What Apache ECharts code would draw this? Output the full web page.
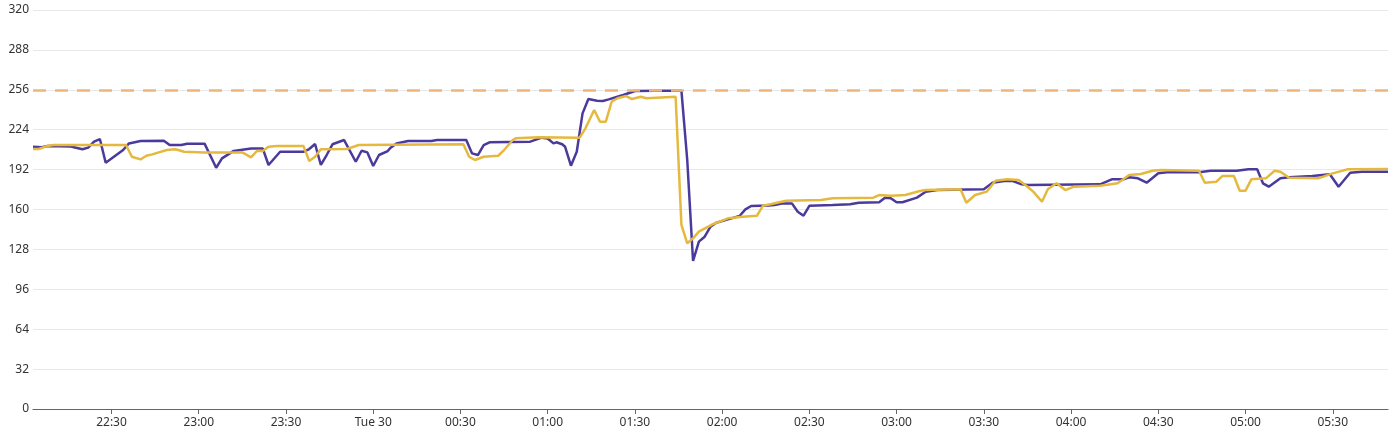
<!DOCTYPE html>
<html>
<head>
<meta charset="utf-8">
<script src="https://cdn.jsdelivr.net/npm/echarts@6/dist/echarts.min.js"></script>
<style>
html,body{margin:0;padding:0;background:#fff;}
#chart{width:1400px;height:443px;}
</style>
</head>
<body>
<div id="chart"></div>
<script>
// minutes after 22:00 on Mon 29
const purpleMinutes = [3,6,8,16,20,22,24,26,28,34,36,40,48,50,54,56,62,66,68,72,78,82,84,88,96,98,100,102,104,106,110,114,116,118,120,122,125,126,128,132,140,142,152,154,156,158,160,174,178,180,182,183,185,186,188,190,192,194,197,199,201,204,206,210,217,226,228,230,232,234,236,238,242,246,248,250,256,258,261,264,266,268,270,278,284,287,294,296,298,300,302,307,310,314,330,333,337,340,343,345,370,374,378,380,383,386,390,393,404,408,417,421,424,426,428,432,435,443,449,452,456,460,469];
const purpleValues = [210.3,210,211,210.5,208.3,209.6,214.4,216.5,197.5,207.7,213,215,215.2,211.7,211.7,212.8,212.8,193.5,201,207,209,209,195.7,206.3,206.3,208.5,212.5,195.7,203.7,212.3,215.7,198.3,207.1,205.8,194.9,203.7,206.9,209.6,213,214.9,214.9,215.7,215.7,205,203.7,211.7,213.9,214.4,217.6,217,213,213.9,212.3,210.3,195.1,206.3,237.1,248.6,247.2,247,248.3,250.4,251.8,255,255.3,255.3,199.7,118.7,134.2,138.2,146.2,149.4,152.1,154.8,160.1,162.8,163.3,163.6,164.9,164.9,158.2,155,163,163.6,164.2,165.4,165.8,169.5,169,165.8,165.8,169.5,174.3,175.6,176.2,181.5,182.8,182.8,180.2,179.6,180.2,184.2,184.2,185.8,185,181.5,189,189.8,189.8,191.1,191.1,192.2,192.2,181,178.3,185,185.8,186.8,188.2,178.3,189.5,190.3,190.3];
const yellowMinutes = [3,5,8,10,35,37,40,42,44,49,52,55,62,75,78,80,82,84,87,96,98,100,102,111,115,151,153,155,158,163,165,168,169,177,191,193,196,198,200,202,204,207,209,212,214,224,226,228,230,232,237,242,247,252,254,257,262,274,278,292,294,298,303,308,310,322,324,327,331,334,338,342,345,347,350,352,355,358,361,370,376,380,384,388,391,404,406,410,412,416,418,420,422,427,430,432,435,445,450,455,469];
const yellowValues = [208.5,208.5,211,211.7,211.7,202.3,200.2,203.1,204.2,207.7,208.3,206.3,205.8,205.8,201.8,206.9,207,210.3,211,211,198.9,202.3,208.3,208.5,211.7,212.3,202.3,199.7,202.3,203.1,207.7,215.7,217.1,217.9,217.6,225.1,239.8,230.4,230.4,246.4,249.2,251,248.6,250.4,249.2,250.4,147.6,132.9,136.9,142.2,148.4,152.9,154.2,155,163,164.4,167,167.6,169,169.5,171.6,171,171.6,174.8,175.6,176.2,165.4,171.6,174.3,183.1,184.2,183.6,178.3,174.3,166.2,176.2,181,175.6,178.3,179.1,181,187.6,188.5,191.1,191.7,191.1,181.5,182.3,186.8,186.8,175.1,175.1,184.2,185,191.1,190.3,185.4,185,189,192.2,192.5];
const thresholdValue = 256;
const yTicks = [0,32,64,96,128,160,192,224,256,288,320];
// x tick positions (minutes after 22:00) and their labels
const xTickMinutes = [30,60,90,120,150,180,210,240,270,300,330,360,390,420,450];
const xTickLabels = ['22:30','23:00','23:30','Tue 30','00:30','01:00','01:30','02:00','02:30','03:00','03:30','04:00','04:30','05:00','05:30'];
const axisStartMinutes = 3;
const axisEndMinutes = 469;

const pair = (ms, vs) => ms.map((m, i) => [m, vs[i]]);
const labelFor = {};
xTickMinutes.forEach((t, i) => { labelFor[t] = xTickLabels[i]; });

const chart = echarts.init(document.getElementById('chart'), null, {renderer: 'canvas'});
chart.setOption({
  animation: false,
  grid: {left: 33, right: 12, top: 10, bottom: 34, containLabel: false},
  xAxis: {
    type: 'value',
    min: axisStartMinutes,
    max: axisEndMinutes,
    axisLine: {lineStyle: {color: '#666', width: 1.2}},
    axisTick: {show: true, length: 5, lineStyle: {color: '#666'}, customValues: xTickMinutes},
    splitLine: {show: false},
    axisLabel: {
      color: '#333', fontSize: 12, fontFamily: 'Noto Sans', margin: 8,
      customValues: xTickMinutes,
      formatter: function (v) { return labelFor[v] !== undefined ? labelFor[v] : ''; }
    }
  },
  yAxis: {
    type: 'value',
    min: yTicks[0], max: yTicks[yTicks.length - 1], interval: 32,
    axisLine: {show: false},
    axisTick: {show: false},
    splitLine: {lineStyle: {color: '#e8e8e8', width: 1}},
    axisLabel: {color: '#333', fontSize: 12, fontFamily: 'Noto Sans', margin: 4}
  },
  series: [
    {
      type: 'line', name: 'A', data: pair(purpleMinutes, purpleValues),
      showSymbol: false, symbol: 'none',
      lineStyle: {color: '#4b3a9c', width: 2.5}, itemStyle: {color: '#4b3a9c'}, z: 3
    },
    {
      type: 'line', name: 'B', data: pair(yellowMinutes, yellowValues),
      showSymbol: false, symbol: 'none',
      lineStyle: {color: '#e5b93f', width: 2.5}, itemStyle: {color: '#e5b93f'}, z: 4,
      markLine: {
        silent: true, symbol: 'none', label: {show: false},
        lineStyle: {color: '#efb57f', width: 2.5, type: [13, 9]},
        data: [{yAxis: thresholdValue}]
      }
    }
  ]
});
</script>
</body>
</html>
